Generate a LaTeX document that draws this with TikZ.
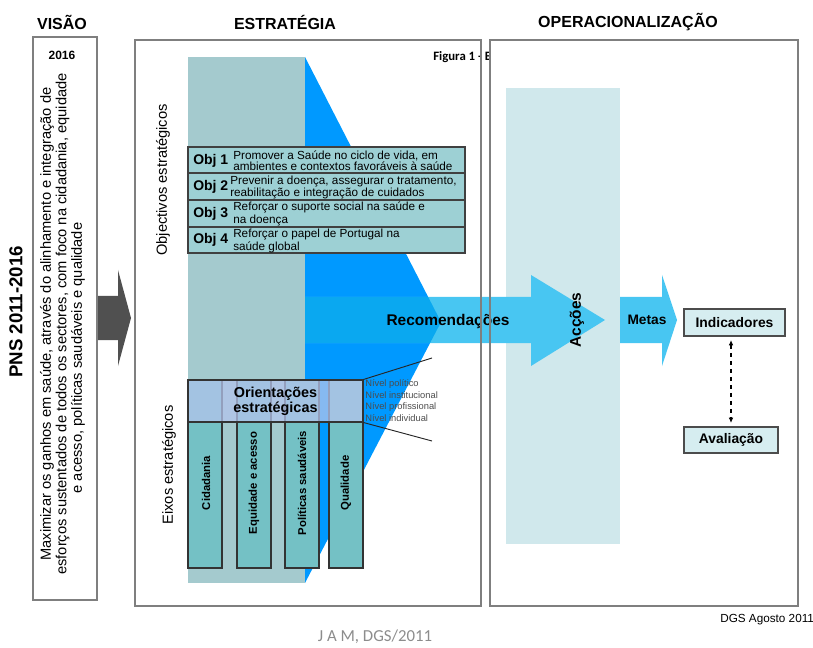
\documentclass[tikz,border=0pt]{standalone}
\usepackage{fontspec}
\setmainfont{Liberation Sans}
\newfontfamily\calibfont{Carlito}
\usetikzlibrary{arrows.meta}

\definecolor{framegray}{HTML}{7F7F7F}
\definecolor{darkarrow}{HTML}{505050}
\definecolor{tealgray}{HTML}{A4CACE}
\definecolor{vivid}{HTML}{0099FF}
\definecolor{skyarrow}{HTML}{48C6F2}
\definecolor{skyband}{HTML}{0AA8F0}
\definecolor{objfill}{HTML}{9DD0D4}
\definecolor{pillar}{HTML}{74C1C5}
\definecolor{bandfill}{HTML}{B4C4EC}
\definecolor{actfill}{HTML}{D0E8EC}
\definecolor{kpifill}{HTML}{D6EDF0}
\definecolor{signgray}{HTML}{8C8C8C}

\tikzset{
  frame/.style={draw=framegray, line width=1.5pt},
  title/.style={font=\fontsize{12}{14}\selectfont\bfseries, inner sep=0},
  objrow/.style={draw=black!75, line width=0.8pt, fill=objfill},
  objtag/.style={font=\fontsize{10.5}{12}\selectfont\bfseries, anchor=west, inner sep=0},
  objtext/.style={font=\fontsize{8.8}{7.6}\selectfont, anchor=west, align=left, inner sep=0},
  pillarbox/.style={draw=black!80, line width=0.8pt, fill=pillar},
  pillartext/.style={font=\fontsize{8.5}{10}\selectfont\bfseries, rotate=90, inner sep=0},
  sidelabel/.style={font=\fontsize{11}{13}\selectfont, rotate=90, inner sep=0},
  visionline/.style={font=\fontsize{11}{12}\selectfont, rotate=90, inner sep=0},
  levellabel/.style={font=\fontsize{7}{8}\selectfont, text=black!70, anchor=west, inner sep=0},
  kpibox/.style={draw=black!70, line width=1pt, fill=kpifill,
    font=\fontsize{10.4}{12}\selectfont\bfseries, inner sep=0},
  bigarrow/.style={fill=skyarrow},
  bandbox/.style={draw=black!80, line width=0.8pt, fill=bandfill, fill opacity=0.75,
    text opacity=1, align=center, font=\fontsize{10.8}{11.3}\selectfont\bfseries, inner sep=0},
}

\begin{document}
\begin{tikzpicture}[x=0.75pt,y=-0.75pt]
\useasboundingbox (0,0) rectangle (813,648);

% ---------- headings ----------
\node[title] (hVisao) at (62,22) {VISÃO};
\node[title] (hEstr) at (285,22) {ESTRATÉGIA};
\node[title] (hOper) at (628,22) {OPERACIONALIZAÇÃO};

% ---------- vision column ----------
\node[font=\fontsize{9}{11}\selectfont\bfseries, inner sep=0] (year) at (62,55) {2016};
\node[font=\fontsize{14}{16}\selectfont\bfseries, rotate=90, inner sep=0] (pns) at (16,312) {PNS 2011-2016};
\node[visionline] (v1) at (47,324) {Maximizar os ganhos em saúde, através do alinhamento e integração de};
\node[visionline] (v2) at (62.5,324) {esforços sustentados de todos os sectores, com foco na cidadania, equidade};
\node[visionline] (v3) at (78,358) {e acesso, políticas saudáveis e qualidade};

% arrow from vision to strategy
\fill[darkarrow] (97,296) -- (118,296) -- (118,270) -- (131,318) -- (118,366) -- (118,340) -- (97,340) -- cycle;

% ---------- caption fragment behind the operational panel ----------
\node[font=\calibfont\fontsize{9.6}{10}\selectfont\bfseries, anchor=west, inner sep=0] (fig) at (433,57) {Figura 1 - E};
\fill[white] (490,40) rectangle (798,606);

% actions strip
\fill[actfill] (506,88) rectangle (620,544);

% ---------- strategy funnel ----------
\fill[vivid] (305,57) -- (441,322) -- (305,583) -- cycle;
\fill[tealgray] (188,57) rectangle (305,583);

% recommendations arrow
\fill[bigarrow] (305,297) -- (531,297) -- (531,275) -- (605,320) -- (531,366) -- (531,343) -- (305,343) -- cycle;
\begin{scope}
  \clip (305,57) -- (441,322) -- (305,583) -- cycle;
  \fill[skyband] (305,297) rectangle (445,343);
\end{scope}
\node[font=\fontsize{11.6}{13}\selectfont\bfseries, inner sep=0] (rec) at (448,322) {Recomendações};
\node[font=\fontsize{11.6}{13}\selectfont\bfseries, rotate=90, inner sep=0] (acc) at (577,320) {Acções};

% targets arrow
\fill[bigarrow] (620,297) -- (662,297) -- (662,275) -- (677,320) -- (662,366) -- (662,343) -- (620,343) -- cycle;
\node[font=\fontsize{10.3}{12}\selectfont\bfseries, inner sep=0] (metas) at (647,320) {Metas};

% ---------- strategic objectives ----------
\node[sidelabel] (objLbl) at (163,180) {Objectivos estratégicos};
\draw[objrow] (188,147) rectangle (465,173);
\draw[objrow] (188,173) rectangle (465,200);
\draw[objrow] (188,200) rectangle (465,227);
\draw[objrow] (188,227) rectangle (465,253);
\node[objtag] (o1) at (193,160.5) {Obj 1};
\node[objtag] (o2) at (193,187) {Obj 2};
\node[objtag] (o3) at (193,213.5) {Obj 3};
\node[objtag] (o4) at (193,240) {Obj 4};
\node[objtext] (t1) at (233,161) {Promover a Saúde no ciclo de vida, em\\ambientes e contextos favoráveis à saúde};
\node[objtext] (t2) at (230,187.5) {Prevenir a doença, assegurar o tratamento,\\reabilitação e integração de cuidados};
\node[objtext] (t3) at (233,214) {Reforçar o suporte social na saúde e\\na doença};
\node[objtext] (t4) at (233,241) {Reforçar o papel de Portugal na\\saúde global};

% ---------- strategic axes ----------
\node[sidelabel] (axLbl) at (169,465) {Eixos estratégicos};
\draw[pillarbox] (188,380) rectangle (222,568);
\draw[pillarbox] (237,380) rectangle (271,568);
\draw[pillarbox] (285,380) rectangle (319,568);
\draw[pillarbox] (329,380) rectangle (363,568);
\node[pillartext] (p1) at (206,483) {Cidadania};
\node[pillartext] (p2) at (254,483) {Equidade e acesso};
\node[pillartext] (p3) at (302,483) {Políticas saudáveis};
\node[pillartext] (p4) at (346,483) {Qualidade};

\node[bandbox, minimum width=131.25pt, minimum height=31.5pt] (band) at (275.5,401)
  {Orientações\\estratégicas};

\coordinate (lvTop) at (432,358);
\coordinate (lvBot) at (432,441);
\draw[black!85, line width=0.7pt] (band.north east) -- (lvTop);
\draw[black!85, line width=0.7pt] (band.south east) -- (lvBot);
\node[levellabel] (n1) at (365,384) {Nível político};
\node[levellabel] (n2) at (365,395.5) {Nível institucional};
\node[levellabel] (n3) at (365,407) {Nível profissional};
\node[levellabel] (n4) at (365,418) {Nível individual};

% ---------- indicators ----------
\node[kpibox, minimum width=75.75pt, minimum height=20.25pt] (ind) at (734.5,322.5) {Indicadores};
\node[kpibox, minimum width=70.5pt, minimum height=19.5pt] (aval) at (731,440) {Avaliação};
\draw[dashed, line width=0.8pt, {Latex[length=4pt,width=3.5pt]}-{Latex[length=4pt,width=3.5pt]},
  shorten <=2.5pt, shorten >=2.5pt] (aval.north |- ind.south) -- (aval.north);

% ---------- panel frames ----------
\draw[frame] (33,37) rectangle (97,600);
\draw[frame] (135,40) rectangle (481,606);
\draw[frame] (490,40) rectangle (798,606);

% ---------- credits ----------
\node[font=\fontsize{8.8}{10}\selectfont, anchor=west, inner sep=0] (dgs) at (720,620) {DGS Agosto 2011};
\node[font=\calibfont\fontsize{12.6}{15}\selectfont, text=signgray, inner sep=0] (jam) at (375,637) {J A M, DGS/2011};
\end{tikzpicture}
\end{document}
